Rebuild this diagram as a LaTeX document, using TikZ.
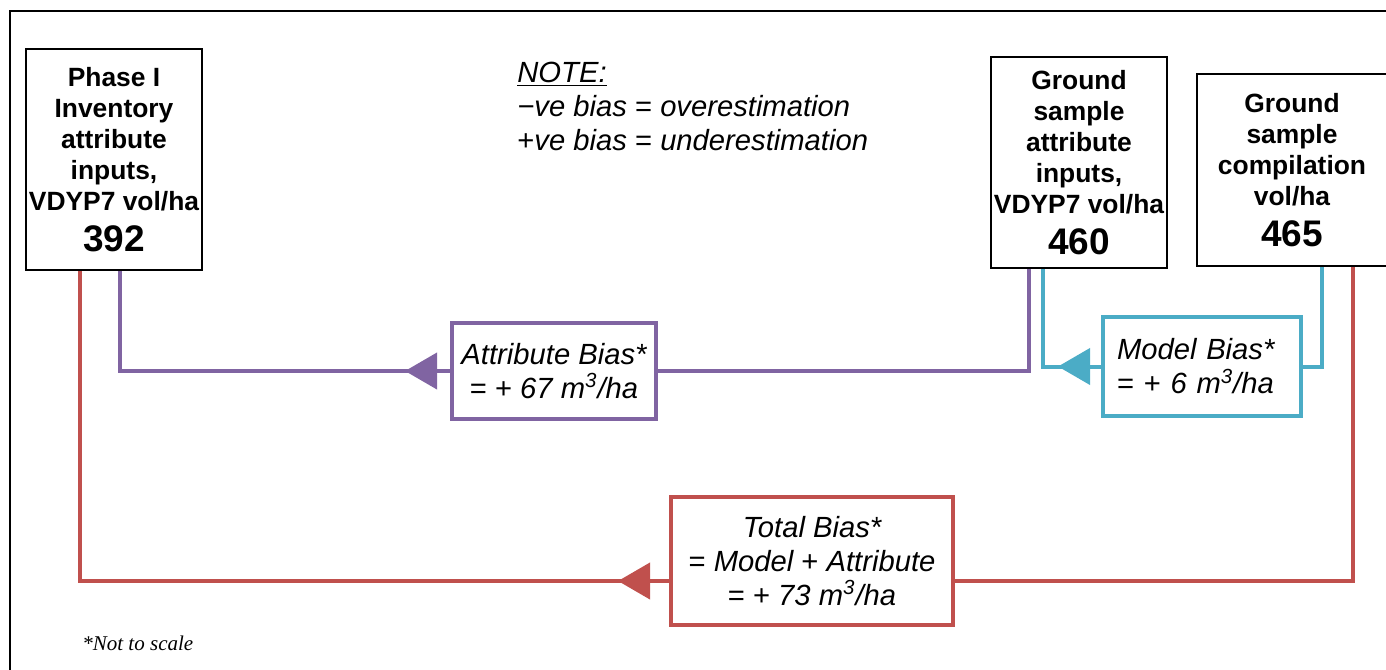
\documentclass[tikz,border=0pt]{standalone}
\usepackage{fontspec}
\setmainfont{Liberation Sans}
\newfontfamily\timesfont{Liberation Serif}
\usetikzlibrary{arrows.meta,calc}
\definecolor{cpurple}{HTML}{8064A2}
\definecolor{cteal}{HTML}{4BACC6}
\definecolor{cred}{HTML}{C0504D}
\begin{document}
\begin{tikzpicture}[x=0.5pt,y=-0.5pt,
  inbox/.style={draw=black,line width=1.2pt,inner sep=0pt,align=center,
    font=\bfseries\fontsize{13.2}{15.5}\selectfont},
  biasbox/.style={draw=#1,line width=2pt,inner sep=0pt,fill=white,
    font=\itshape\fontsize{14.6}{17}\selectfont},
  conn/.style={draw=#1,line width=2pt},
  tipst/.style={draw=#1,line width=2pt,-{Triangle[length=16pt,width=18pt]}}]
\useasboundingbox (0,0) rectangle (1386,669);
% outer frame (cropped)
\draw[line width=1.2pt] (1400,11) -| (10,700);

% input boxes
\node[inbox,minimum width=88pt,minimum height=110.5pt] (b1) at (114,159.5)
  {Phase I\\Inventory\\attribute\\inputs,\\VDYP7 vol/ha\\[5pt]{\fontsize{18.5}{21}\selectfont 392}};
\node[inbox,minimum width=88pt,minimum height=105.5pt] (b2) at (1079,162.5)
  {Ground\\sample\\attribute\\inputs,\\VDYP7 vol/ha\\[5pt]{\fontsize{18.5}{21}\selectfont 460}};
\node[inbox,minimum width=95pt,minimum height=96pt] (b3) at (1292,170)
  {Ground\\sample\\compilation\\vol/ha\\[5pt]{\fontsize{18.5}{21}\selectfont 465}};

% note
\node[anchor=north west,inner sep=0pt,align=left,
  font=\itshape\fontsize{14.6}{17}\selectfont] (note) at (517,62)
  {\underline{NOTE:}\\−ve bias {\upshape=} overestimation\\{\upshape+}ve bias {\upshape=} underestimation};

% bias boxes
\node[biasbox=cpurple,minimum width=102pt,minimum height=48pt,align=center] (abox) at (554,371)
  {Attribute Bias*\\{\upshape= +} 67 m\textsuperscript{3}/ha};
\node[biasbox=cteal,minimum width=99pt,minimum height=49.5pt,align=left,text width=85pt] (mbox) at (1202,366.5)
  {Model Bias*\\{\upshape= +} 6 m\textsuperscript{3}/ha};
\node[biasbox=cred,minimum width=141pt,minimum height=64pt,align=center] (tbox) at (812,561)
  {Total Bias*\\{\upshape=} Model {\upshape+} Attribute\\{\upshape= +} 73 m\textsuperscript{3}/ha};

% attach points
\coordinate (b1p) at ([xshift=3pt]b1.south);
\coordinate (b1r) at ([xshift=-17pt]b1.south);
\coordinate (b2p) at ([xshift=-25pt]b2.south);
\coordinate (b2t) at ([xshift=-18pt]b2.south);
\coordinate (b3t) at ([xshift=15pt]b3.south);
\coordinate (b3r) at ([xshift=30.5pt]b3.south);
\coordinate (tR) at ([yshift=-10pt]tbox.east);
\coordinate (tL) at ([yshift=-10pt]tbox.west);
\coordinate (atip) at ([xshift=-22.5pt]abox.west);
\coordinate (mtip) at ([xshift=-21.5pt]mbox.west);
\coordinate (ttip) at ([xshift=-25.5pt]tL);

% purple: attribute bias
\draw[conn=cpurple] (b2p) |- (abox.east);
\draw[conn=cpurple] (abox.west) -| (b1p);
\draw[tipst=cpurple] (abox.west) -- (atip);
% teal: model bias
\draw[conn=cteal] (b3t) |- (mbox.east);
\draw[conn=cteal] (mbox.west) -| (b2t);
\draw[tipst=cteal] (mbox.west) -- (mtip);
% red: total bias
\draw[conn=cred] (b3r) |- (tR);
\draw[conn=cred] (tL) -| (b1r);
\draw[tipst=cred] (tL) -- (ttip);

% footnote
\node[anchor=base west,inner sep=0pt,font=\timesfont\itshape\fontsize{10.5}{12}\selectfont] (fn) at (82,650) {*Not to scale};
\end{tikzpicture}
\end{document}
